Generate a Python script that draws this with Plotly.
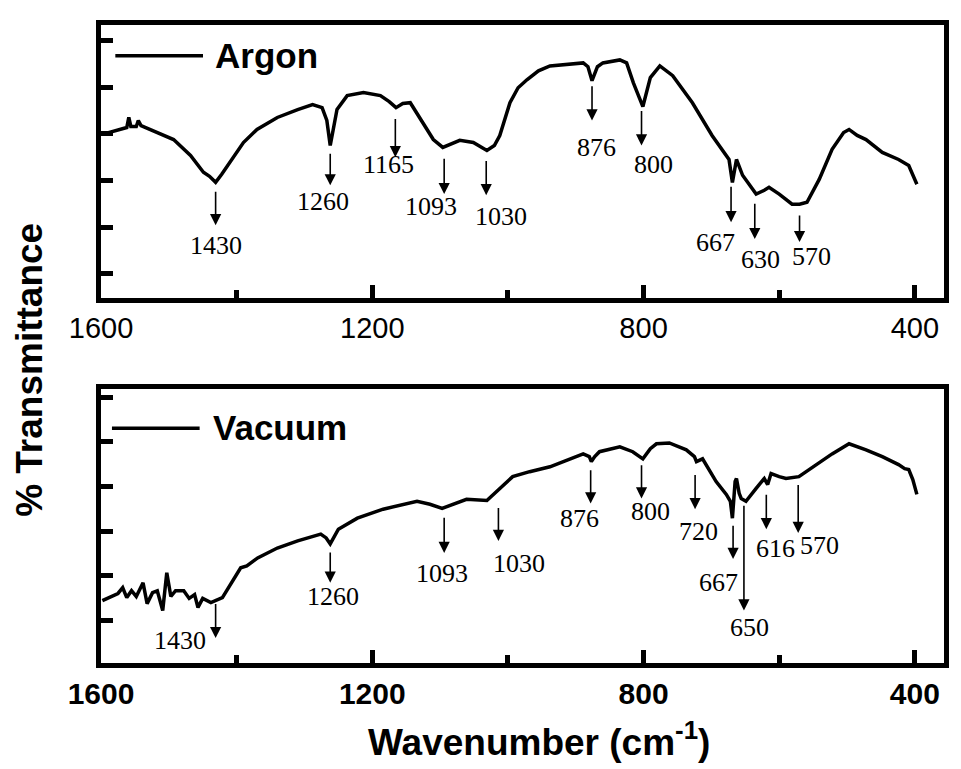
import plotly.graph_objects as go

# ---------------- data (arbitrary transmittance units) ----------------
argon_wn = [1598, 1580, 1562, 1559, 1556, 1548, 1545, 1541, 1516, 1493, 1468, 1449, 1440, 1431, 1422,
            1413, 1400, 1390, 1370, 1340, 1310, 1288, 1274, 1267, 1262, 1257, 1252, 1237, 1213, 1188,
            1175, 1165, 1155, 1144, 1125, 1110, 1096, 1085, 1071, 1051, 1040, 1031, 1020, 1012, 997,
            985, 972, 955, 938, 910, 889, 882, 876, 868, 860, 835, 825, 815, 801, 790, 776, 757, 728,
            699, 680, 674, 669, 663, 654, 634, 622, 615, 600, 581, 570, 559, 541, 522, 505, 497, 485,
            472, 448, 424, 409, 397]
argon_t = [59.9, 61.3, 62.4, 66.1, 62.8, 62.8, 65.0, 63.1, 60.6, 58.0, 52.2, 46.0, 44.5, 42.3, 45.3,
           48.5, 53.3, 56.9, 61.7, 66.1, 69.0, 70.8, 69.7, 65.0, 55.8, 62.4, 69.0, 74.1, 75.2, 74.1,
           71.9, 69.7, 71.2, 71.5, 64.2, 58.0, 55.1, 56.2, 57.7, 56.9, 55.5, 54.0, 55.8, 59.5, 71.5,
           77.0, 79.9, 83.2, 85.0, 85.8, 86.1, 84.7, 79.6, 84.7, 86.1, 87.2, 86.1, 78.8, 70.1, 80.7,
           85.0, 81.4, 71.5, 59.5, 52.6, 50.7, 42.3, 50.7, 44.9, 38.0, 39.4, 40.5, 38.0, 34.3, 34.3,
           35.0, 43.4, 54.4, 60.6, 61.7, 59.5, 58.0, 53.3, 50.7, 48.5, 41.6]

vacuum_wn = [1598, 1585, 1575, 1568, 1562, 1555, 1548, 1538, 1532, 1524, 1517, 1509, 1503, 1497, 1490,
             1478, 1470, 1462, 1457, 1450, 1438, 1421, 1413, 1394, 1385, 1369, 1340, 1310, 1276, 1268,
             1262, 1256, 1250, 1222, 1184, 1134, 1115, 1097, 1080, 1061, 1031, 1012, 993, 968, 938,
             889, 880, 877, 872, 865, 835, 816, 801, 790, 781, 762, 737, 725, 722, 713, 693, 678, 672,
             669, 665, 663, 659, 656, 649, 634, 622, 617, 612, 600, 590, 571, 546, 522, 497, 472, 448,
             424, 415, 409, 403, 397]
vacuum_t = [22.8, 24.3, 25.4, 27.5, 23.9, 26.4, 24.3, 29.3, 21.7, 25.7, 26.4, 19.2, 33.0, 24.3, 26.4,
            26.4, 23.6, 25.0, 20.3, 23.6, 22.1, 23.9, 27.2, 34.8, 35.5, 38.4, 42.0, 44.6, 47.1, 45.7,
            43.5, 46.4, 48.9, 52.9, 56.2, 59.1, 58.0, 56.5, 58.0, 59.8, 59.4, 63.8, 68.1, 69.9, 71.7,
            76.4, 75.4, 73.6, 75.4, 77.2, 79.0, 77.2, 74.6, 78.3, 80.1, 80.4, 77.9, 75.4, 73.6, 74.6,
            66.3, 61.6, 59.1, 52.9, 66.3, 67.4, 62.0, 60.1, 59.1, 63.8, 67.4, 65.2, 69.2, 68.1, 67.4,
            68.1, 72.5, 76.4, 80.1, 77.9, 75.4, 72.5, 71.0, 70.7, 67.0, 61.6]

# peak annotations (labels, arrow position, arrow tail/head values, label anchor)
argon_labels = ["1430", "1260", "1165", "1093", "1030", "876", "800", "667", "630", "570"]
argon_arrow_wn = [1431, 1262, 1166, 1094, 1032, 876, 803, 671, 636, 570]
argon_arrow_tail = [39.4, 53.3, 66.1, 51.5, 50.7, 78.1, 69.0, 41.2, 35.0, 30.7]
argon_arrow_head = [26.6, 41.2, 51.5, 38.0, 37.6, 65.0, 55.8, 27.7, 21.5, 20.4]
argon_label_wn = [1430, 1273, 1176, 1114, 1010, 870, 785, 694, 627, 553]
argon_label_t = [19.3, 35.4, 48.9, 33.6, 29.9, 55.1, 48.9, 20.4, 13.9, 15.0]

vacuum_labels = ["1430", "1260", "1093", "1030", "876", "800", "720", "667", "650", "616", "570"]
vacuum_arrow_wn = [1431, 1262, 1094, 1014, 878, 803, 724, 668, 652, 619, 572]
vacuum_arrow_tail = [22.1, 40.9, 53.6, 57.2, 71.0, 72.8, 69.2, 50.7, 58.0, 62.0, 65.6]
vacuum_arrow_head = [9.1, 29.3, 40.2, 44.6, 58.3, 60.1, 56.2, 38.0, 19.2, 48.9, 47.5]
vacuum_label_wn = [1484, 1258, 1097, 983, 894, 790, 719, 690, 644, 605, 540]
vacuum_label_t = [8.3, 24.3, 32.6, 36.2, 52.9, 55.4, 48.2, 29.3, 13.0, 42.0, 43.1]

series_names = ["Argon", "Vacuum"]
x_range = [1600, 357]
x_tick_vals = [1600, 1200, 800, 400]

# ---------------- figure ----------------
fig = go.Figure()
fig.add_trace(go.Scatter(x=argon_wn, y=argon_t, mode="lines", name=series_names[0],
                         line=dict(color="black", width=3.5), xaxis="x", yaxis="y", showlegend=False))
fig.add_trace(go.Scatter(x=vacuum_wn, y=vacuum_t, mode="lines", name=series_names[1],
                         line=dict(color="black", width=3.5), xaxis="x2", yaxis="y2", showlegend=False))

ann = []
serif = dict(family="Liberation Serif, Times New Roman, serif", size=26, color="black")


def add_peaks(xr, yr, labels, awn, tail, head, lwn, lt):
    for i in range(len(labels)):
        ann.append(dict(x=awn[i], y=head[i], ax=awn[i], ay=tail[i], xref=xr, yref=yr,
                        axref=xr, ayref=yr, text="", showarrow=True, arrowhead=2,
                        arrowsize=1.4, arrowwidth=1.6, arrowcolor="black"))
        ann.append(dict(x=lwn[i], y=lt[i], xref=xr, yref=yr, text=labels[i], showarrow=False,
                        font=serif, xanchor="center", yanchor="middle"))


add_peaks("x", "y", argon_labels, argon_arrow_wn, argon_arrow_tail, argon_arrow_head,
          argon_label_wn, argon_label_t)
add_peaks("x2", "y2", vacuum_labels, vacuum_arrow_wn, vacuum_arrow_tail, vacuum_arrow_head,
          vacuum_label_wn, vacuum_label_t)

sans_b = "Liberation Sans, Arial, sans-serif"
# in-panel legends
shapes = [
    dict(type="line", xref="x domain", yref="y domain", x0=0.017, x1=0.121, y0=0.887, y1=0.887,
         line=dict(color="black", width=3.5)),
    dict(type="line", xref="x2 domain", yref="y2 domain", x0=0.013, x1=0.117, y0=0.858, y1=0.858,
         line=dict(color="black", width=3.5)),
]
ann.append(dict(x=0.133, y=0.887, xref="x domain", yref="y domain", text="<b>" + series_names[0] + "</b>",
                showarrow=False, xanchor="left", yanchor="middle",
                font=dict(family=sans_b, size=35, color="black")))
ann.append(dict(x=0.131, y=0.862, xref="x2 domain", yref="y2 domain", text="<b>" + series_names[1] + "</b>",
                showarrow=False, xanchor="left", yanchor="middle",
                font=dict(family=sans_b, size=35, color="black")))
# shared axis titles
ann.append(dict(x=-0.085, y=0.46, xref="paper", yref="paper", text="<b>% Transmittance</b>",
                textangle=-90, showarrow=False, xanchor="center", yanchor="middle",
                font=dict(family=sans_b, size=37, color="black")))
ann.append(dict(x=0.52, y=-0.12, xref="paper", yref="paper", text="<b>Wavenumber (cm<sup>-1</sup>)</b>",
                showarrow=False, xanchor="center", yanchor="middle",
                font=dict(family=sans_b, size=37, color="black")))

xcommon = dict(range=x_range, tickvals=x_tick_vals, ticks="inside", ticklen=13, tickwidth=5,
               tickcolor="black", showline=True, linewidth=5, linecolor="black", mirror=True,
               showgrid=False, zeroline=False,
               minor=dict(dtick=200, tick0=400, ticks="inside", ticklen=8, tickwidth=5,
                          tickcolor="black", showgrid=False))
ycommon = dict(range=[0, 100], ticks="inside", ticklen=12, tickwidth=5, tickcolor="black",
               showticklabels=False, showline=True, linewidth=5, linecolor="black", mirror=True,
               showgrid=False, zeroline=False)

fig.update_layout(
    width=953, height=761,
    margin=dict(l=93, r=15, t=14, b=106),
    paper_bgcolor="white", plot_bgcolor="white",
    xaxis=dict(xcommon, domain=[0, 1], anchor="y",
               tickfont=dict(family=sans_b, size=29, color="black")),
    yaxis=dict(ycommon, domain=[0.5725, 1], anchor="x", tick0=8.8, dtick=17.1),
    xaxis2=dict(xcommon, domain=[0, 1], anchor="y2",
                tickfont=dict(family=sans_b, size=30, color="black", weight="bold")),
    yaxis2=dict(ycommon, domain=[0, 0.429], anchor="x2", tick0=15.6, dtick=16.3),
    annotations=ann,
    shapes=shapes,
    showlegend=False,
)

fig.write_html("out.html")
